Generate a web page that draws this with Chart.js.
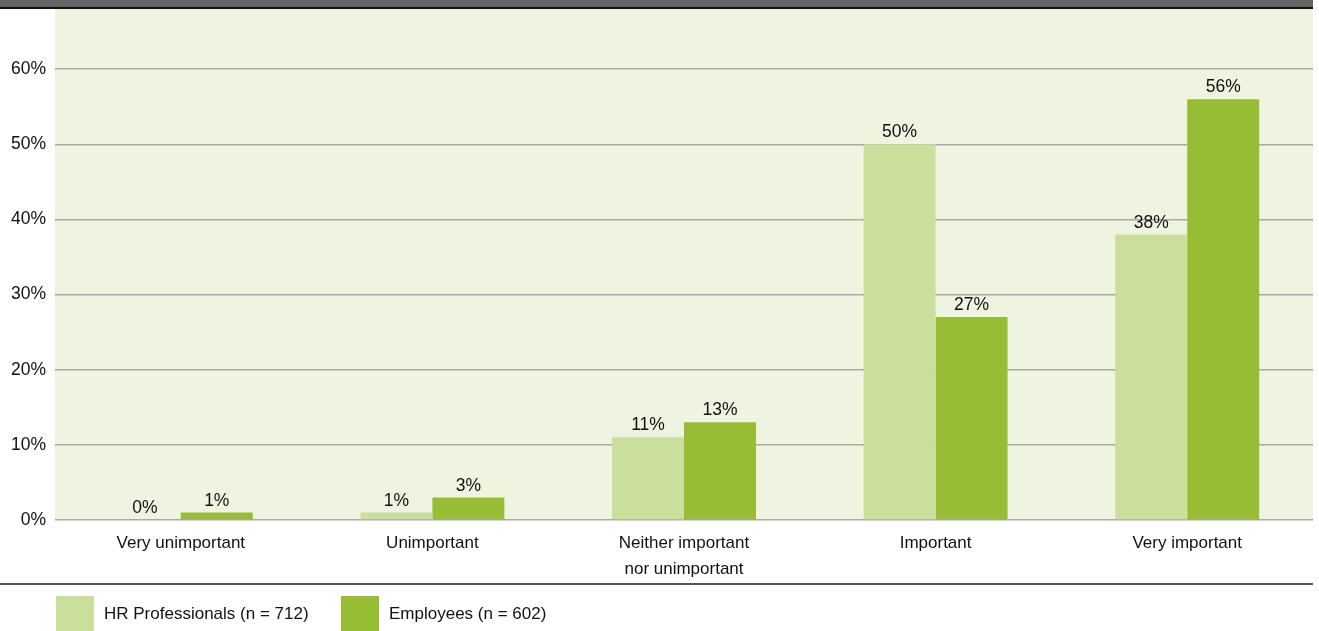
<!DOCTYPE html>
<html lang="en">

<head>
    <meta charset="UTF-8">
    <title>Importance rating</title>
    <style>
        html, body {
            margin: 0;
            padding: 0;
            background: #ffffff;
        }

        #chart-container {
            width: 1319px;
            height: 631px;
            position: relative;
        }
    </style>
</head>

<body>
    <div id="chart-container">
        <canvas id="chart"></canvas>
    </div>

    <script src="https://cdn.jsdelivr.net/npm/chart.js"></script>
    <script>
        // Daten
        var categories = ['Very unimportant', 'Unimportant', ['Neither important', 'nor unimportant'], 'Important', 'Very important'];
        var seriesNames = ['HR Professionals (n = 712)', 'Employees (n = 602)'];
        var hrValues = [0, 1, 11, 50, 38];
        var employeeValues = [1, 3, 13, 27, 56];
        var yTicks = [0, 10, 20, 30, 40, 50, 60];

        var fontFamily = '"Liberation Sans", Arial, Helvetica, sans-serif';
        var textColor = '#111111';

        // Hintergrund, oberer Balken und Trennlinie
        var framePlugin = {
            id: 'frame',
            beforeDraw: function (chart) {
                var c = chart.ctx, a = chart.chartArea;
                c.save();
                c.fillStyle = '#eff4e1';
                c.fillRect(a.left, 0, a.right - a.left, a.bottom);
                c.fillStyle = '#646464';
                c.fillRect(0, 0, a.right, 7);
                c.fillStyle = '#111111';
                c.fillRect(0, 7, a.right, 2);
                c.fillStyle = '#555555';
                c.fillRect(0, 583, a.right, 2);
                c.restore();
            }
        };

        // Wertbeschriftungen über den Balken
        var valueLabelPlugin = {
            id: 'valueLabels',
            afterDatasetsDraw: function (chart) {
                var c = chart.ctx;
                c.save();
                c.font = '17.5px ' + fontFamily;
                c.fillStyle = textColor;
                c.textAlign = 'center';
                c.textBaseline = 'bottom';
                chart.data.datasets.forEach(function (ds, i) {
                    chart.getDatasetMeta(i).data.forEach(function (bar, j) {
                        c.fillText(ds.data[j] + '%', bar.x, bar.y - 3);
                    });
                });
                c.restore();
            }
        };

        // Legende unten links
        var legendPlugin = {
            id: 'bottomLegend',
            afterDraw: function (chart) {
                var c = chart.ctx;
                var boxX = [56, 341];
                c.save();
                c.font = '17px ' + fontFamily;
                c.textBaseline = 'middle';
                chart.data.datasets.forEach(function (ds, i) {
                    c.fillStyle = ds.backgroundColor;
                    c.fillRect(boxX[i], 596, 38, 36);
                    c.fillStyle = textColor;
                    c.fillText(ds.label, boxX[i] + 48, 614);
                });
                c.restore();
            }
        };

        var ctx = document.getElementById('chart').getContext('2d');
        var chart = new Chart(ctx, {
            type: 'bar',
            data: {
                labels: categories,
                datasets: [{
                    label: seriesNames[0],
                    data: hrValues,
                    backgroundColor: '#cadf9c'
                }, {
                    label: seriesNames[1],
                    data: employeeValues,
                    backgroundColor: '#97bd35'
                }]
            },
            options: {
                responsive: true,
                maintainAspectRatio: false,
                animation: false,
                layout: {
                    padding: { top: 9, right: 6, left: 0, bottom: 0 }
                },
                datasets: {
                    bar: {
                        categoryPercentage: 0.572,
                        barPercentage: 1.0
                    }
                },
                plugins: {
                    legend: { display: false },
                    tooltip: { enabled: false }
                },
                scales: {
                    x: {
                        grid: { display: false, drawTicks: false },
                        border: { display: false },
                        ticks: {
                            color: textColor,
                            font: { family: fontFamily, size: 17, lineHeight: 1.53 },
                            padding: 10,
                            maxRotation: 0,
                            autoSkip: false
                        },
                        afterFit: function (scale) {
                            scale.height = 111;
                        }
                    },
                    y: {
                        min: 0,
                        max: 68,
                        grid: {
                            color: '#a8a8a8',
                            lineWidth: 1.5,
                            drawTicks: false
                        },
                        border: { display: false },
                        ticks: {
                            stepSize: 10,
                            color: textColor,
                            font: { family: fontFamily, size: 17.5 },
                            padding: 9,
                            callback: function (v) { return v + '%'; }
                        },
                        afterBuildTicks: function (scale) {
                            scale.ticks = yTicks.map(function (v) { return { value: v }; });
                        },
                        afterFit: function (scale) {
                            scale.width = 55;
                            scale.paddingTop = 0;
                            scale.paddingBottom = 0;
                        }
                    }
                }
            },
            plugins: [framePlugin, valueLabelPlugin, legendPlugin]
        });
    </script>
</body>

</html>
